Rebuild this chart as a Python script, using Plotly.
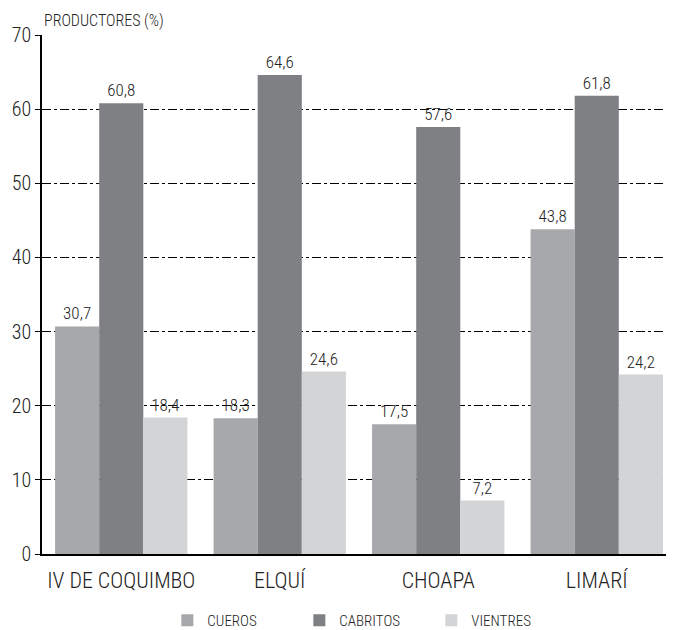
import plotly.graph_objects as go

categories = ["IV DE COQUIMBO", "ELQUÍ", "CHOAPA", "LIMARÍ"]
series_names = ["CUEROS", "CABRITOS", "VIENTRES"]
cueros = [30.7, 18.3, 17.5, 43.8]
cabritos = [60.8, 64.6, 57.6, 61.8]
vientres = [18.4, 24.6, 7.2, 24.2]
colors = ["#a7a8ab", "#7f8084", "#d3d4d6"]
y_ticks = [0, 10, 20, 30, 40, 50, 60, 70]

FONT = "Liberation Sans Narrow, Roboto Condensed, Arial Narrow, sans-serif"

fig = go.Figure()
for name, vals, col in zip(series_names, [cueros, cabritos, vientres], colors):
    fig.add_trace(go.Bar(
        name=name, x=categories, y=vals, marker=dict(color=col, line=dict(width=0)),
        text=[f"{v:.1f}".replace(".", ",") for v in vals],
        textposition="outside", textfont=dict(size=17, color="#222", weight=300),
        cliponaxis=False,
    ))

fig.update_layout(
    width=674, height=630,
    margin=dict(l=34, r=6, t=27, b=84, autoexpand=False),
    plot_bgcolor="white", paper_bgcolor="white",
    font=dict(family=FONT, color="#222", weight=300),
    barmode="group", bargap=0.165, bargroupgap=0,
    showlegend=True,
    legend=dict(orientation="h", x=0.51, xanchor="center", y=-0.128, yanchor="middle",
                font=dict(size=15, weight=300), entrywidth=87, itemwidth=30, traceorder="normal"),
    xaxis=dict(showline=True, linecolor="black", linewidth=1.5, ticks="", automargin=False,
               tickfont=dict(size=22, weight=300), showgrid=False, ticklabelstandoff=6),
    yaxis=dict(range=[0, 70], tickvals=y_ticks, showline=True, linecolor="black", linewidth=1.5,
               ticks="outside", ticklen=5, tickcolor="black", tickfont=dict(size=20, weight=300),
               showgrid=True, gridcolor="black", gridwidth=1, griddash="dashdot",
               zeroline=False, automargin=False),
    annotations=[dict(text="PRODUCTORES (%)", x=0, xref="paper", xanchor="left",
                      y=1, yref="paper", yanchor="bottom", yshift=3, showarrow=False,
                      font=dict(size=16, weight=300))],
)

fig.write_html("out.html")
